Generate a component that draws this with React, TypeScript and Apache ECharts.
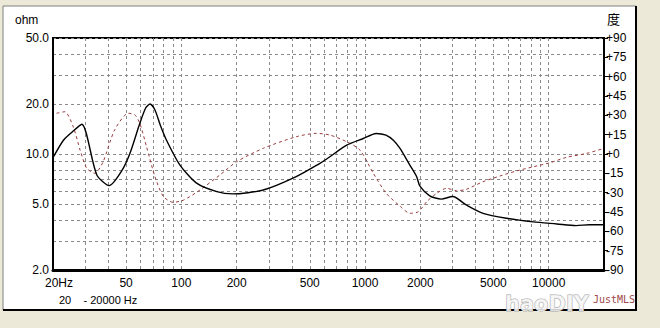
import React, { useEffect, useRef } from "react";
import * as echarts from "echarts";

const impFreq = [20, 22.8, 25.5, 28.7, 34.6, 40.5, 47.3, 52.5, 59.4, 64, 67.5, 71.8, 77, 83, 98, 121, 156, 190, 279, 422, 568, 618, 795, 978, 1150, 1300, 1426, 1550, 1750, 1910, 1990, 2250, 2600, 3000, 3560, 4390, 5880, 8240, 11060, 14100, 16700, 20000];
const impOhm = [9.5, 12.1, 13.6, 15.1, 7.5, 6.45, 7.9, 10.1, 15.3, 19.0, 20.0, 18.4, 14.8, 12.1, 8.6, 6.67, 5.93, 5.75, 6.07, 7.31, 8.79, 9.33, 11.3, 12.4, 13.3, 13.0, 12.1, 10.8, 8.6, 7.3, 6.4, 5.6, 5.35, 5.54, 4.93, 4.39, 4.1, 3.9, 3.79, 3.7, 3.75, 3.75];

const phaseFreq = [20.9, 23.2, 25.8, 28.1, 30.5, 33.8, 37.5, 43.3, 51.4, 55.9, 59.4, 64.6, 71.8, 79.8, 90.4, 103, 126, 162, 200, 279, 422, 544, 644, 795, 938, 1110, 1304, 1552, 1754, 1950, 2166, 2454, 2780, 3150, 3560, 4390, 5420, 6660, 8240, 10150, 12500, 16100, 20000];
const phaseDeg = [31.6, 32.8, 21, 3, -11, -15, -6, 18.6, 31.6, 30.3, 23.8, 5.7, -17.6, -33, -37.5, -35.7, -28, -16.3, -6, 4.4, 13.4, 16, 14.7, 9.5, 3.1, -15, -30.5, -40.5, -46, -44.8, -37, -30.5, -26.6, -28.5, -27.4, -21.5, -17.1, -13.2, -9.9, -6.8, -2.6, 0.5, 4.4];

const freqGrid = [20, 30, 40, 50, 60, 70, 80, 90, 100, 200, 300, 400, 500, 600, 700, 800, 900, 1000, 2000, 3000, 4000, 5000, 6000, 7000, 8000, 9000, 10000, 20000];
const freqLabels = [20, 50, 100, 200, 500, 1000, 2000, 5000, 10000];
const ohmGrid = [2, 3, 4, 5, 6, 7, 8, 9, 10, 20, 30, 40, 50];
const ohmLabels = [2, 5, 10, 20, 50];

const FONT = "'Liberation Sans', Arial, sans-serif";

export default function App() {
  const ref = useRef<HTMLDivElement>(null);
  useEffect(() => {
    if (!ref.current) return;
    const chart = echarts.init(ref.current, null, { renderer: "svg" });
    const gridLine = { show: true, lineStyle: { color: "#8a8a8a", width: 1, type: [3, 3] as any } };
    chart.setOption({
      animation: false,
      backgroundColor: "#ece9d8",
      textStyle: { fontFamily: FONT },
      grid: {
        left: 53,
        right: 56,
        top: 38,
        bottom: 58,
        show: true,
        backgroundColor: "#ffffff",
        borderColor: "#000000",
        borderWidth: 2,
      },
      xAxis: {
        type: "log",
        logBase: 10,
        min: 20,
        max: 20000,
        axisLine: { show: true, onZero: false, lineStyle: { color: "#000", width: 3 } },
        axisTick: { show: false, customValues: freqGrid },
        axisLabel: {
          customValues: freqLabels,
          color: "#000",
          fontSize: 12,
          fontFamily: FONT,
          margin: 7,
          formatter: (v: number) => {
            const r = Math.round(v);
            return r === 20 ? "{a|20Hz}" : String(r);
          },
          rich: { a: { fontSize: 12, fontFamily: FONT, color: "#000", padding: [0, 0, 0, 12] } },
        },
        splitLine: gridLine,
      },
      yAxis: [
        {
          type: "log",
          logBase: 10,
          min: 2,
          max: 50,
          axisLine: { show: true, lineStyle: { color: "#000", width: 2 } },
          axisTick: { show: false, customValues: ohmGrid },
          axisLabel: {
            customValues: ohmLabels,
            color: "#000",
            fontSize: 12,
            fontFamily: FONT,
            margin: 4,
            formatter: (v: number) => (Math.round(v * 10) / 10).toFixed(1),
          },
          splitLine: gridLine,
        },
        {
          type: "value",
          position: "right",
          min: -90,
          max: 90,
          interval: 15,
          axisLine: { show: true, lineStyle: { color: "#000", width: 2 } },
          axisTick: { show: true, inside: false, length: 4, lineStyle: { color: "#000", width: 1 } },
          axisLabel: {
            color: "#000",
            fontSize: 12,
            fontFamily: FONT,
            margin: 2,
            formatter: (v: number) => (v >= 0 ? "+" + v : String(v)),
          },
          splitLine: { show: false },
        },
      ],
      series: [
        {
          type: "line",
          name: "impedance",
          xAxisIndex: 0,
          yAxisIndex: 0,
          data: impFreq.map((f, i) => [f, impOhm[i]]),
          showSymbol: false,
          smooth: 0.25,
          lineStyle: { color: "#000000", width: 1.4 },
          z: 4,
        },
        {
          type: "line",
          name: "phase",
          xAxisIndex: 0,
          yAxisIndex: 1,
          data: phaseFreq.map((f, i) => [f, phaseDeg[i]]),
          showSymbol: false,
          smooth: 0.25,
          lineStyle: { color: "#9a3b3b", width: 1, type: [3, 3] as any },
          z: 3,
        },
      ],
      graphic: [
        {
          type: "rect",
          z: -10,
          shape: { x: 3, y: 6, width: 633, height: 304 },
          style: { fill: "#ffffff", stroke: "#808080", lineWidth: 1 },
        },
        { type: "line", z: -9, shape: { x1: 636, y1: 6, x2: 636, y2: 311 }, style: { stroke: "#000", lineWidth: 2 } },
        { type: "line", z: -9, shape: { x1: 3, y1: 310, x2: 637, y2: 310 }, style: { stroke: "#000", lineWidth: 2 } },
        { type: "text", x: 15, y: 14, style: { text: "ohm", font: `12px ${FONT}`, fill: "#000" } },
        { type: "text", x: 607, y: 12, style: { text: "度", font: `13px 'Noto Sans CJK SC', sans-serif`, fill: "#000" } },
        { type: "text", x: 59, y: 294, style: { text: "20    - 20000 Hz", font: `11px ${FONT}`, fill: "#000" } },
        {
          type: "text",
          x: 505,
          y: 293,
          z: 20,
          style: {
            text: "haoDIY",
            font: `bold 21px 'DejaVu Sans', sans-serif`,
            fill: "rgba(245,245,245,0.85)",
            stroke: "#a8a8a8",
            lineWidth: 1,
          },
        },
        { type: "text", x: 593, y: 294, z: 21, style: { text: "JustMLS", font: `10px 'DejaVu Sans Mono', monospace`, fill: "#a04848" } },
      ],
    });
    return () => chart.dispose();
  }, []);
  return <div ref={ref} style={{ position: "absolute", left: 0, top: 0, width: 660, height: 328 }} />;
}
